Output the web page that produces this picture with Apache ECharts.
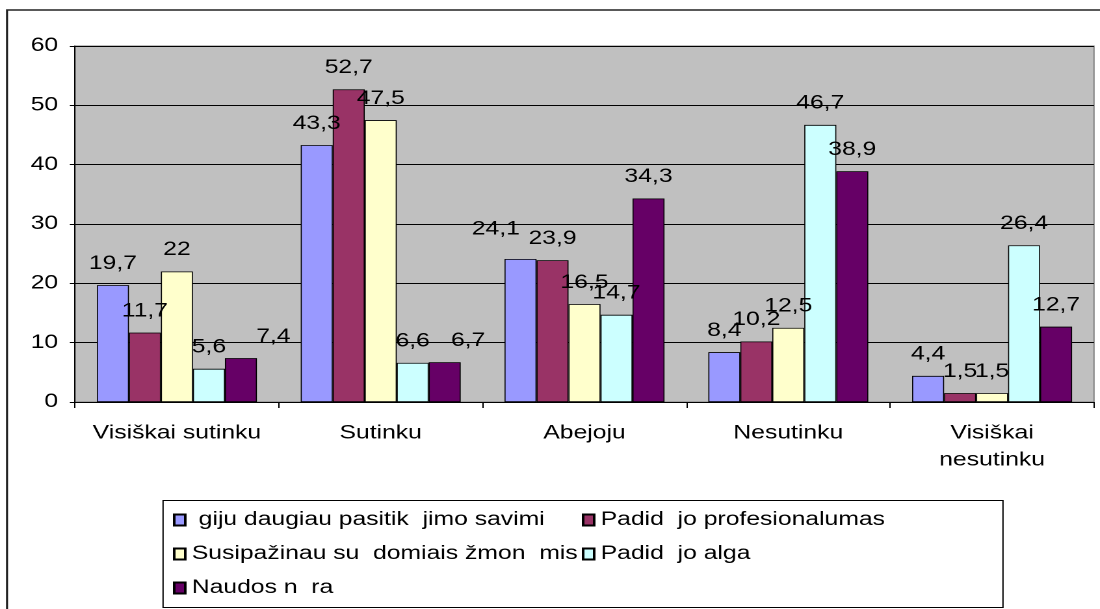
<!DOCTYPE html>
<html>
<head>
<meta charset="utf-8">
<script src="https://cdn.jsdelivr.net/npm/echarts/dist/echarts.min.js"></script>
<style>
  html, body { margin: 0; padding: 0; background: #fff; overflow: hidden; }
  /* the original picture is stretched sideways, so draw narrower and stretch */
  #chart { width: 846px; height: 609px; transform: scaleX(1.3002); transform-origin: 0 0; }
</style>
</head>
<body>
<div id="chart"></div>
<script>
// kategorijos
var categories = ['Visiškai sutinku', 'Sutinku', 'Abejoju', 'Nesutinku', 'Visiškai\nnesutinku'];
var seriesNames = [' giju daugiau pasitik  jimo savimi', 'Padid  jo profesionalumas',
                   'Susipažinau su  domiais žmon  mis', 'Padid  jo alga', 'Naudos n  ra'];
var pasitikejimas = [19.7, 43.3, 24.1, 8.4, 4.4];
var profesionalumas = [11.7, 52.7, 23.9, 10.2, 1.5];
var zmones = [22, 47.5, 16.5, 12.5, 1.5];
var alga = [5.6, 6.6, 14.7, 46.7, 26.4];
var naudos = [7.4, 6.7, 34.3, 38.9, 12.7];
var yTicks = [0, 10, 20, 30, 40, 50, 60];

var colors = ['#9999FF', '#993366', '#FFFFCC', '#CCFFFF', '#660066'];
var font = '"Liberation Sans", Arial, sans-serif';

// a few labels were dragged by hand in the original: [series, category, dx, dy]
var movedLabels = [[0, 2, -19, -8], [4, 0, 25, 0], [4, 1, 18, 0]];

var myChart = echarts.init(document.getElementById('chart'), null, { devicePixelRatio: 2 });

function bar(idx, data) {
  return {
    name: seriesNames[idx],
    type: 'bar',
    data: data.map(function (v, i) {
      var item = { value: v };
      movedLabels.forEach(function (m) {
        if (m[0] === idx && m[1] === i) item.label = { offset: [m[2], m[3]] };
      });
      return item;
    }),
    barGap: 0,
    barCategoryGap: '21.5%',
    itemStyle: { borderColor: '#000', borderWidth: 0.8 },
    label: {
      show: true,
      position: 'top',
      distance: 12,
      color: '#000',
      fontFamily: font,
      fontSize: 19,
      formatter: function (p) { return String(p.value).replace('.', ','); }
    }
  };
}

var option = {
  animation: false,
  color: colors,
  backgroundColor: '#fff',
  textStyle: { fontFamily: font },
  grid: {
    left: 57.7, right: 4.6, top: 46, bottom: 207,
    show: true,
    backgroundColor: '#C0C0C0',
    borderColor: '#808080',
    borderWidth: 1,
    containLabel: false,
    outerBoundsMode: 'none'
  },
  legend: {
    left: 133,
    top: 503,
    width: 700,
    orient: 'horizontal',
    padding: 0,
    itemGap: 0,
    itemWidth: 8.5,
    itemHeight: 11,
    itemTextGap: 8.5,
    icon: 'rect',
    textStyle: { fontFamily: font, fontSize: 19, color: '#000', width: 300, lineHeight: 34 },
    data: seriesNames
  },
  xAxis: {
    type: 'category',
    data: categories,
    axisLine: { lineStyle: { color: '#000', width: 1 } },
    axisTick: { show: true, length: 6, lineStyle: { color: '#000' } },
    axisLabel: { color: '#000', fontFamily: font, fontSize: 19, margin: 18, lineHeight: 27, interval: 0 }
  },
  yAxis: {
    type: 'value',
    min: yTicks[0],
    max: yTicks[yTicks.length - 1],
    interval: 10,
    axisLine: { show: true, lineStyle: { color: '#000', width: 1 } },
    axisTick: { show: true, length: 4, lineStyle: { color: '#000' } },
    splitLine: { lineStyle: { color: '#000', width: 1 } },
    axisLabel: { color: '#000', fontFamily: font, fontSize: 19, margin: 13 }
  },
  graphic: [
    {
      type: 'rect',
      shape: { x: 5.4, y: 10, width: 1000, height: 700 },
      style: { fill: 'none', stroke: '#222', lineWidth: 1.6 },
      silent: true
    },
    {
      type: 'rect',
      shape: { x: 125.4, y: 500.5, width: 646, height: 107 },
      style: { fill: 'none', stroke: '#000', lineWidth: 1 },
      silent: true
    }
  ],
  series: [
    bar(0, pasitikejimas),
    bar(1, profesionalumas),
    bar(2, zmones),
    bar(3, alga),
    bar(4, naudos)
  ]
};

myChart.setOption(option);
window.addEventListener('resize', myChart.resize);
</script>
</body>
</html>
